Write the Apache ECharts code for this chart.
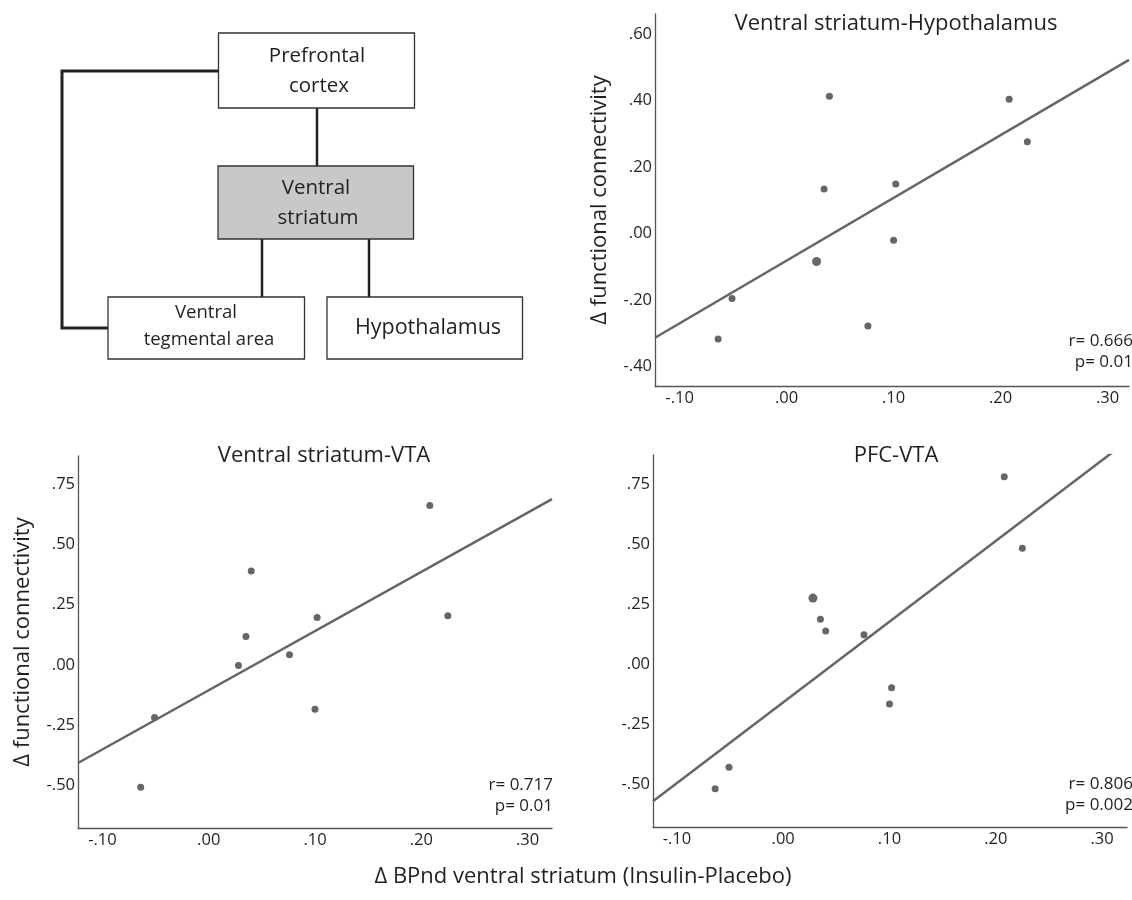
<!DOCTYPE html>
<html>
<head>
<meta charset="utf-8">
<script src="https://cdn.jsdelivr.net/npm/echarts/dist/echarts.min.js"></script>
<style>
html, body { margin: 0; padding: 0; background: #fff; }
#chart { width: 1132px; height: 900px; }
</style>
</head>
<body>
<div id="chart"></div>
<script>
// change in BPnd ventral striatum, one value per subject (shared by all three panels)
var bpChange = [-0.064, -0.051, 0.028, 0.035, 0.040, 0.076, 0.100, 0.102, 0.208, 0.225];
// change in functional connectivity per panel
var vsHypo = [-0.317, -0.195, -0.084, 0.134, 0.413, -0.278, -0.020, 0.149, 0.404, 0.276];
var vsVta = [-0.509, -0.219, -0.003, 0.118, 0.390, 0.042, -0.184, 0.197, 0.662, 0.204];
var pfcVta = [-0.517, -0.428, 0.276, 0.188, 0.139, 0.123, -0.165, -0.097, 0.781, 0.483];
// dots drawn larger (two subjects on top of each other)
var hypoDouble = [2];
var pfcDouble = [2];
// fit lines
var hypoFit = [[-0.123, -0.313], [0.32, 0.522]];
var vtaFit = [[-0.123, -0.408], [0.323, 0.689]];
var pfcFit = [[-0.1225, -0.569], [0.3235, 0.928]];
// ticks
var bpTicks = [-0.1, 0, 0.1, 0.2, 0.3];
var hypoTicks = [-0.4, -0.2, 0, 0.2, 0.4, 0.6];
var vtaTicks = [-0.5, -0.25, 0, 0.25, 0.5, 0.75];
// stats
var hypoStats = ['r= 0.666', 'p= 0.01'];
var vtaStats = ['r= 0.717', 'p= 0.01'];
var pfcStats = ['r= 0.806', 'p= 0.002'];

var font = '"Open Sans", Lato, sans-serif';
var ink = '#231f20';
var grey = '#666666';
var axisGrey = '#555555';

var chart = echarts.init(document.getElementById('chart'));

function tickText(v) {
    return v.toFixed(2).replace('0.', '.');
}

function points(ys) {
    return bpChange.map(function (x, i) { return [x, ys[i]]; });
}

function xAxis(idx, min, max) {
    return {
        type: 'value', gridIndex: idx, min: min, max: max,
        splitLine: { show: false },
        axisTick: { show: false },
        axisLine: { show: true, onZero: false, lineStyle: { color: axisGrey, width: 1.3 } },
        axisLabel: {
            customValues: bpTicks, formatter: tickText, margin: 4,
            color: ink, fontSize: 16.5, fontFamily: font
        }
    };
}

function yAxis(idx, min, max, ticks, name) {
    return {
        type: 'value', gridIndex: idx, min: min, max: max,
        name: name || '', nameLocation: 'middle', nameGap: 44,
        nameTextStyle: { color: ink, fontSize: 22, fontFamily: font },
        splitLine: { show: false },
        axisTick: { show: false },
        axisLine: { show: true, onZero: false, lineStyle: { color: axisGrey, width: 1.3 } },
        axisLabel: {
            customValues: ticks, formatter: tickText, margin: 3,
            color: ink, fontSize: 16.5, fontFamily: font
        }
    };
}

function dots(idx, ys, doubles) {
    return {
        type: 'scatter', xAxisIndex: idx, yAxisIndex: idx,
        data: points(ys),
        symbolSize: function (val, p) { return doubles.indexOf(p.dataIndex) >= 0 ? 9 : 7; },
        itemStyle: { color: grey, opacity: 1 },
        silent: true
    };
}

function fit(idx, data) {
    return {
        type: 'line', xAxisIndex: idx, yAxisIndex: idx,
        data: data, showSymbol: false, clip: true,
        lineStyle: { color: grey, width: 2.5 },
        silent: true
    };
}

function heading(text, x, y) {
    return {
        text: text, left: x, top: y, textAlign: 'center',
        textStyle: { color: ink, fontSize: 22, fontWeight: 'normal', fontFamily: font }
    };
}

function stats(lines, x, y) {
    return {
        text: lines.join('\n'), left: x, top: y, textAlign: 'right',
        textStyle: { color: ink, fontSize: 17, fontWeight: 'normal', fontFamily: font, lineHeight: 21 }
    };
}

// block diagram
function box(x, y, w, h, fill) {
    return { type: 'rect', shape: { x: x, y: y, width: w, height: h },
        style: { fill: fill, stroke: '#333', lineWidth: 1.3 } };
}
function wire(pts, w) {
    return { type: 'polyline', shape: { points: pts },
        style: { stroke: '#222', lineWidth: w, fill: null } };
}
function label(text, x, y, size) {
    return { type: 'text', style: { text: text, x: x, y: y, fill: ink,
        font: size + 'px ' + font, textAlign: 'center', textVerticalAlign: 'middle' } };
}

var diagram = [
    wire([[218, 71], [62, 71], [62, 328], [108, 328]], 3),
    wire([[317, 108], [317, 166]], 2.5),
    wire([[262, 239], [262, 297]], 2.5),
    wire([[369, 239], [369, 297]], 2.5),
    box(218.5, 33, 196, 75, '#fff'),
    box(218, 166, 195.5, 73, '#c8c8c8'),
    box(108, 297, 196.5, 62, '#fff'),
    box(327, 297, 195.5, 62, '#fff'),
    label('Prefrontal', 317, 56, 20.5),
    label('cortex', 319, 86, 20.5),
    label('Ventral', 316, 188, 20.5),
    label('striatum', 318, 218, 20.5),
    label('Ventral', 206, 313, 18.5),
    label('tegmental area', 209, 340, 18.5),
    label('Hypothalamus', 428, 328, 21.5)
];

var option = {
    animation: false,
    backgroundColor: '#fff',
    title: [
        heading('Ventral striatum-Hypothalamus', 891, 8),
        heading('Ventral striatum-VTA', 319, 440),
        heading('PFC-VTA', 891, 440),
        stats(hypoStats, 1128, 326),
        stats(vtaStats, 548, 770),
        stats(pfcStats, 1128, 769),
        {
            text: 'Δ BPnd ventral striatum (Insulin-Placebo)', left: 578, top: 861, textAlign: 'center',
            textStyle: { color: ink, fontSize: 22, fontWeight: 'normal', fontFamily: font }
        }
    ],
    grid: [
        { left: 655, top: 14, width: 474, height: 372 },
        { left: 78, top: 456, width: 474, height: 372 },
        { left: 653, top: 455, width: 474, height: 372 }
    ],
    xAxis: [
        xAxis(0, -0.123, 0.32),
        xAxis(1, -0.123, 0.323),
        xAxis(2, -0.1225, 0.3235)
    ],
    yAxis: [
        yAxis(0, -0.458, 0.66, hypoTicks, 'Δ functional connectivity'),
        yAxis(1, -0.678, 0.868, vtaTicks, 'Δ functional connectivity'),
        yAxis(2, -0.676, 0.871, vtaTicks)
    ],
    series: [
        fit(0, hypoFit), dots(0, vsHypo, hypoDouble),
        fit(1, vtaFit), dots(1, vsVta, []),
        fit(2, pfcFit), dots(2, pfcVta, pfcDouble)
    ],
    graphic: diagram
};

chart.setOption(option);
</script>
</body>
</html>
